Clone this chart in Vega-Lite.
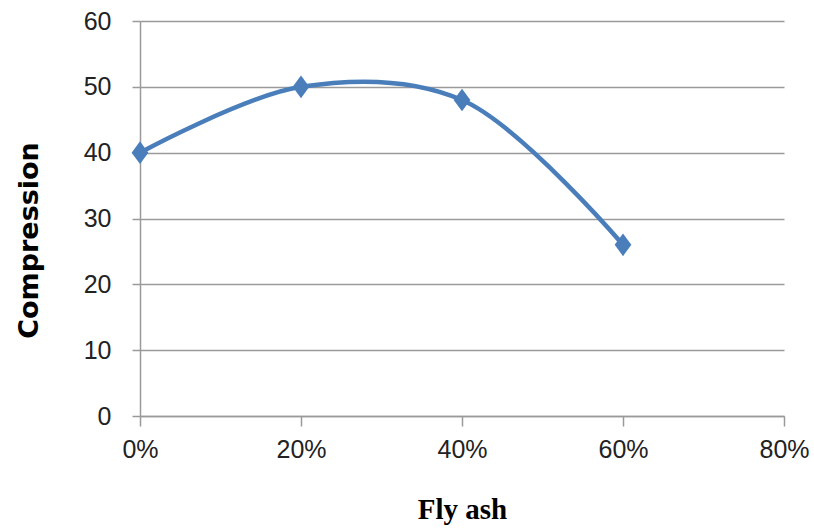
{
  "$schema": "https://vega.github.io/schema/vega-lite/v6.json",
  "width": 644,
  "height": 395,
  "autosize": {"type": "none"},
  "padding": {"left": 140, "top": 21, "right": 30, "bottom": 115},
  "background": "white",
  "config": {"view": {"stroke": null}},
  "data": {"values": [
    {"flyash": 0, "compression": 40},
    {"flyash": 0.2, "compression": 50},
    {"flyash": 0.4, "compression": 48},
    {"flyash": 0.6, "compression": 26}
  ]},
  "layer": [
    {
      "mark": {"type": "line", "interpolate": "catmull-rom", "color": "#4A7EBB", "strokeWidth": 4.5},
      "encoding": {
        "x": {"field": "flyash", "type": "quantitative"},
        "y": {"field": "compression", "type": "quantitative"}
      }
    },
    {
      "mark": {"type": "point", "shape": "M0,-1.35L1,0L0,1.35L-1,0Z", "filled": true, "color": "#4A7EBB", "size": 280, "opacity": 1},
      "encoding": {
        "x": {
          "field": "flyash", "type": "quantitative",
          "scale": {"domain": [0, 0.8], "nice": false},
          "axis": {
            "values": [0, 0.2, 0.4, 0.6, 0.8], "format": ".0%", "grid": false, "labelFlush": false,
            "domainColor": "#9a9a9a", "tickColor": "#9a9a9a", "tickSize": 10, "domainWidth": 1.5, "tickWidth": 1.5,
            "labelFont": "Liberation Sans", "labelFontSize": 25, "labelColor": "#222", "labelPadding": 11,
            "title": "Fly ash", "titleFont": "Liberation Serif", "titleFontSize": 29, "titleFontWeight": "bold", "titleColor": "#000",
            "titleY": 102, "titleBaseline": "alphabetic"
          }
        },
        "y": {
          "field": "compression", "type": "quantitative",
          "scale": {"domain": [0, 60], "nice": false},
          "axis": {
            "values": [0, 10, 20, 30, 40, 50, 60], "grid": true, "gridColor": "#9a9a9a", "gridWidth": 1.3,
            "domainColor": "#9a9a9a", "tickColor": "#9a9a9a", "tickSize": 8, "domainWidth": 1.5, "tickWidth": 1.5,
            "labelFont": "Liberation Sans", "labelFontSize": 25, "labelColor": "#222", "labelPadding": 21,
            "title": "Compression", "titleFont": "DejaVu Sans", "titleFontSize": 27, "titleFontWeight": "bold", "titleColor": "#000",
            "titleX": -103, "titleY": 219, "titleBaseline": "alphabetic", "titleAlign": "center", "titleAngle": -90
          }
        }
      }
    }
  ]
}
